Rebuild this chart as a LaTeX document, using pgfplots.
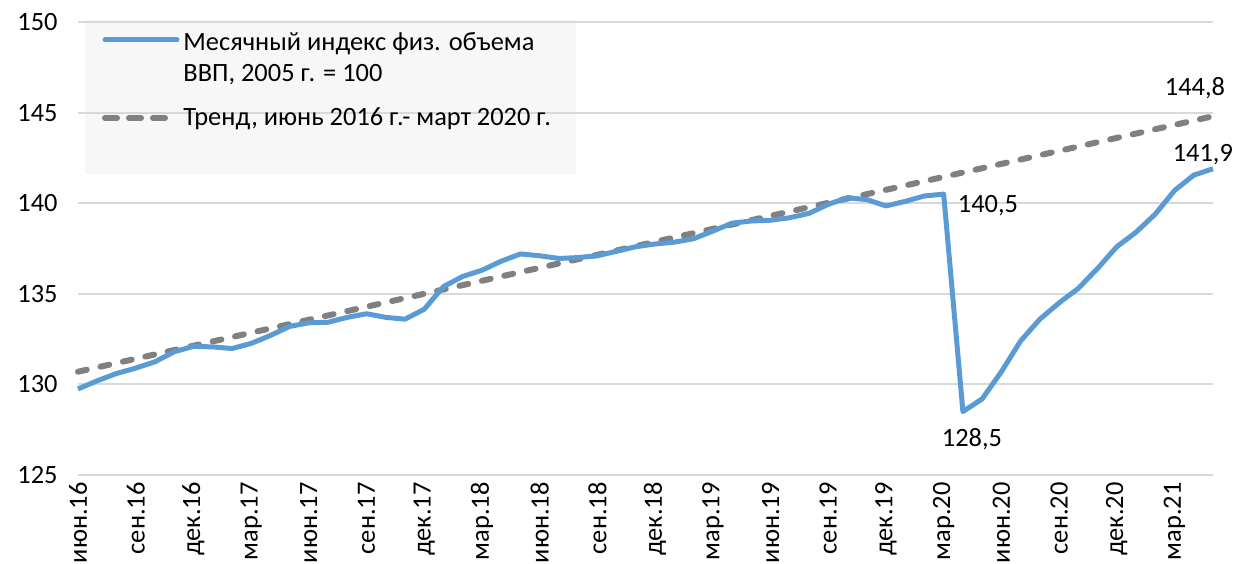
\documentclass[border=0pt]{standalone}
\usepackage{fontspec}
\setmainfont{Carlito}
\usepackage{pgfplots}
\pgfplotsset{compat=1.18}
\definecolor{blueline}{HTML}{5B9BD5}
\definecolor{trendgray}{HTML}{808080}
\definecolor{gridgray}{HTML}{D9D9D9}
\definecolor{legfill}{HTML}{F7F7F7}
\begin{document}
\begin{tikzpicture}[font=\fontsize{13.2}{15.5}\selectfont]
\useasboundingbox (-39pt,-44pt) rectangle (578.5pt,237.5pt);
\fill[legfill] (3.5pt,150.5pt) rectangle (249pt,227.5pt);
\begin{axis}[
  at={(0,0)}, anchor=south west,
  scale only axis, width=567.5pt, height=226.5pt,
  xmin=0, xmax=59, ymin=125, ymax=150,
  ytick={125,130,...,150},
  xtick={0,3,...,57},
  xticklabels={июн.16,сен.16,дек.16,мар.17,июн.17,сен.17,дек.17,мар.18,июн.18,сен.18,дек.18,мар.19,июн.19,сен.19,дек.19,мар.20,июн.20,сен.20,дек.20,мар.21},
  xticklabel style={rotate=90, anchor=east, inner sep=0pt},
  xticklabel shift=3.5pt,
  yticklabel style={anchor=east, inner sep=0pt},
  yticklabel shift=10pt,
  axis line style={draw=none},
  major tick length=0pt,
  ymajorgrids, xmajorgrids=false,
  grid style={gridgray, line width=1pt},
  clip=false,
  /pgf/number format/assume math mode=true,
  tick label style={font=\fontsize{13.2}{15.5}\selectfont},
]
\addplot[trendgray, line width=3pt, line cap=round, dash pattern=on 4.5pt off 7pt] coordinates {(0,130.7) (59,144.8)};
\addplot[blueline, line width=2.5pt, line join=round] coordinates {
(0,129.75) (1,130.2) (2,130.6) (3,130.9) (4,131.25) (5,131.8) (6,132.1) (7,132.07) (8,131.98) (9,132.26)
(10,132.7) (11,133.2) (12,133.4) (13,133.43) (14,133.7) (15,133.9) (16,133.7) (17,133.6) (18,134.15) (19,135.4)
(20,135.96) (21,136.3) (22,136.8) (23,137.2) (24,137.1) (25,136.95) (26,137.0) (27,137.1) (28,137.35) (29,137.6)
(30,137.75) (31,137.85) (32,138.04) (33,138.46) (34,138.9) (35,139.02) (36,139.06) (37,139.2) (38,139.44) (39,139.94)
(40,140.3) (41,140.2) (42,139.85) (43,140.1) (44,140.4) (45,140.5) (46,128.5) (47,129.2) (48,130.7) (49,132.4)
(50,133.6) (51,134.5) (52,135.3) (53,136.4) (54,137.6) (55,138.4) (56,139.4) (57,140.7) (58,141.55) (59,141.9)
};
\node at (axis cs:47.3,139.85) {140,5};
\node at (axis cs:46.47,127.0) {128,5};
\node at (axis cs:58.47,142.66) {141,9};
\node at (axis cs:58.06,146.36) {144,8};
\end{axis}
\draw[blueline, line width=2.5pt, line cap=round] (13.5pt,217.5pt) -- (49.5pt,217.5pt);
\draw[trendgray, line width=3pt, line cap=round, dash pattern=on 6pt off 6pt] (13.5pt,178.5pt) -- (49.5pt,178.5pt);
\node[anchor=west, align=left, inner sep=0pt] at (52.5pt,208pt) {Месячный индекс физ. объема\\ВВП, 2005 г. = 100};
\node[anchor=west, inner sep=0pt] at (52.5pt,178pt) {Тренд, июнь 2016 г.- март 2020 г.};
\end{tikzpicture}
\end{document}
